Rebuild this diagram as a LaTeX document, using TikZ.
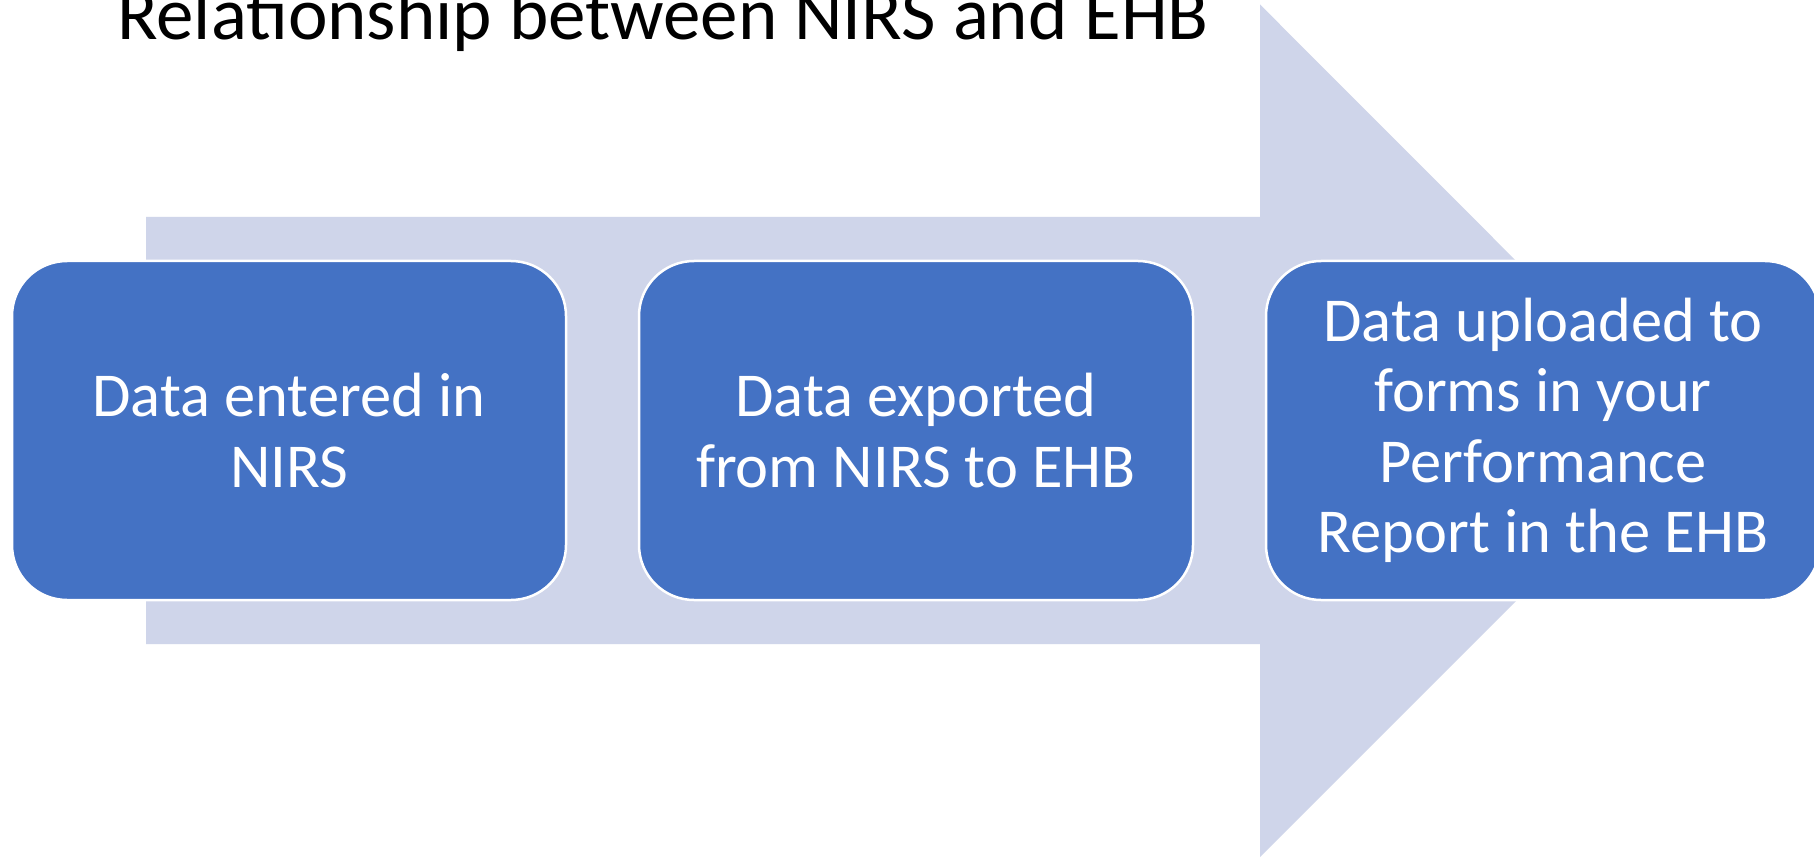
\documentclass[tikz,border=0pt]{standalone}
\usepackage{fontspec}
\setmainfont{Carlito}
\usepackage{tikz}

\definecolor{stepblue}{HTML}{4472C4}
\definecolor{arrowgrey}{HTML}{CFD5EA}

\tikzset{
  stepbox/.style={draw=white, line width=2.5pt, fill=stepblue, rounded corners=55pt,
    minimum width=554pt, minimum height=339pt, align=center, text=white,
    font=\fontsize{62.5}{70.5}\selectfont, inner sep=0pt},
  titletext/.style={font=\fontsize{75}{84}\selectfont, anchor=base, inner sep=0pt}
}

\begin{document}
\begin{tikzpicture}[x=1pt,y=-1pt]
        \clip (0,0) rectangle (1814,858);
        \fill[white] (0,0) rectangle (1814,858);

        % big arrow behind the steps
        \fill[arrowgrey] (146,217) -- (1260,217) -- (1260,4.5) -- (1686,431)
          -- (1260,857) -- (1260,644) -- (146,644) -- cycle;

        \node[titletext] (title) at (663,40) {Relationship between NIRS and EHB};

        \node[stepbox] (entered) at (289,430.5) {Data entered in\\NIRS};
        \node[stepbox] (exported) at (916,430.5) {Data exported\\from NIRS to EHB};
        \node[stepbox] (uploaded) at (1543,430.5) {Data uploaded to\\forms in your\\Performance\\Report in the EHB};
\end{tikzpicture}
\end{document}
